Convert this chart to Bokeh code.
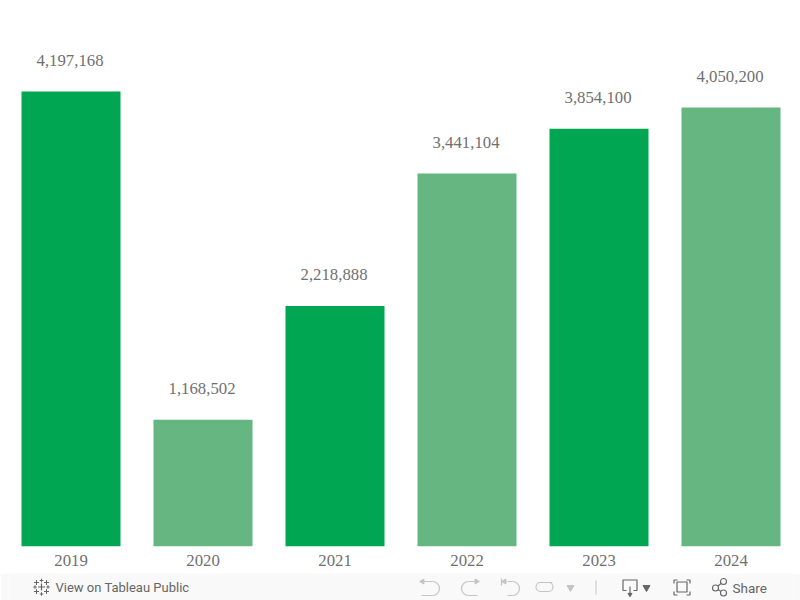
from bokeh.plotting import figure
from bokeh.layouts import column
from bokeh.models import ColumnDataSource, FactorRange, Range1d
from bokeh.core.properties import value
from bokeh.embed import file_html
from bokeh.resources import INLINE
import math

years = ["2019", "2020", "2021", "2022", "2023", "2024"]
totals = [4197168, 1168502, 2218888, 3441104, 3854100, 4050200]
shades = ["dark", "light", "dark", "light", "dark", "light"]
palette = {"dark": "#00a651", "light": "#66b682"}
TEXT = "#707070"
SERIF = "Liberation Serif"
SANS = "Roboto"
ICON = "#666666"
IDLE = "#c4c4c4"

src = ColumnDataSource(dict(
    year=years, total=totals,
    color=[palette[s] for s in shades],
    label=[f"{v:,}" for v in totals],
))

p = figure(width=800, height=573, output_backend="svg", toolbar_location=None,
           x_range=FactorRange(factors=years, range_padding=-3.5/132, range_padding_units="absolute"),
           y_range=Range1d(0, max(totals) * 1.2),
           min_border_left=8, min_border_right=7, min_border_top=0, min_border_bottom=27)
p.vbar(x="year", top="total", width=0.75, fill_color="color", line_color=None, source=src)
p.text(x="year", y="total", text="label", source=src, x_offset=-1, y_offset=-31,
       text_align="center", text_baseline="middle", text_color=TEXT,
       text_font=value(SERIF), text_font_size="16.75px")
p.yaxis.visible = False
p.grid.visible = False
p.outline_line_color = None
ax = p.xaxis[0]
ax.axis_line_color = None
ax.major_tick_line_color = None
ax.minor_tick_line_color = None
ax.major_label_standoff = 2
ax.major_label_text_font = SERIF
ax.major_label_text_font_size = "16.75px"
ax.major_label_text_color = TEXT

# Viewer strip under the chart. The column aligns its frame with the chart's
# frame, so its x range covers those same 8..793 pixels.
bar = figure(width=800, height=27, output_backend="svg", toolbar_location=None,
             x_range=Range1d(8, 793), y_range=Range1d(600, 573),
             min_border_left=0, min_border_right=0, min_border_top=0, min_border_bottom=0,
             background_fill_color="#f9f9f9", border_fill_color="#f9f9f9")
bar.axis.visible = False
bar.grid.visible = False
bar.outline_line_color = None

bar.text(x=[55], y=[587], text=["View on Tableau Public"], text_baseline="middle",
         text_color=ICON, text_font=value(SANS), text_font_size="13px")
bar.text(x=[732], y=[587], text=["Share"], text_baseline="middle",
         text_color=ICON, text_font=value(SANS), text_font_size="13.5px")

# logo
bar.scatter(x=[41], y=[586.5], marker="cross", size=7, line_color=ICON, line_width=1.2)
bar.scatter(x=[36, 46, 36, 46], y=[582, 582, 591, 591], marker="cross", size=5, line_color=ICON, line_width=1)
bar.scatter(x=[41, 41, 34.5, 47.5], y=[580, 593.5, 586.5, 586.5], marker="cross", size=3.5, line_color=ICON, line_width=1)

# undo, redo, revert, refresh
bar.multi_line(xs=[[421, 432], [421, 432], [468, 477], [468, 477], [507, 512], [507, 512], [501, 501]],
               ys=[[581, 581], [595, 595], [581, 581], [595, 595], [581, 581], [595, 595], [578, 585]],
               line_color=IDLE, line_width=1.2)
bar.arc(x=[432, 512], y=[588, 588], radius=[7, 7], start_angle=[-math.pi/2]*2, end_angle=[math.pi/2]*2,
        line_color=IDLE, line_width=1.2)
bar.arc(x=[468], y=[588], radius=[7], start_angle=[math.pi/2], end_angle=[3*math.pi/2],
        line_color=IDLE, line_width=1.2)
bar.scatter(x=[422, 476, 504], y=[581, 581, 581], size=5, marker="triangle", angle=[math.pi/2, -math.pi/2, math.pi/2],
            color=IDLE)
bar.multi_line(xs=[[539, 552], [539, 549]], ys=[[582, 582], [591, 591]], line_color=IDLE, line_width=1.2)
bar.arc(x=[540], y=[586.5], radius=[4.5], start_angle=[math.pi/2], end_angle=[3*math.pi/2], line_color=IDLE, line_width=1.2)
bar.arc(x=[548], y=[586.5], radius=[4.5], start_angle=[-math.pi/2], end_angle=[math.pi/2], line_color=IDLE, line_width=1.2)
bar.scatter(x=[570], y=[587], size=7, marker="inverted_triangle", color=IDLE)
bar.line(x=[595.5, 595.5], y=[580, 594], line_color=IDLE, line_width=1)

# download
bar.multi_line(xs=[[626, 622.5, 622.5, 636.5, 636.5, 633], [629.5, 629.5]],
               ys=[[590, 590, 579.5, 579.5, 590, 590], [586, 594]],
               line_color=ICON, line_width=1.2)
bar.scatter(x=[629.5], y=[594], size=4, marker="inverted_triangle", color=ICON)
bar.scatter(x=[646], y=[587], size=7, marker="inverted_triangle", color=ICON)

# fullscreen
bar.quad(left=[676.5], right=[686.5], top=[581.5], bottom=[591.5], fill_color=None, line_color=ICON, line_width=1.2)
bar.multi_line(xs=[[673.5, 673.5, 677], [686, 689.5, 689.5], [673.5, 673.5, 677], [686, 689.5, 689.5]],
               ys=[[583, 579.5, 579.5], [579.5, 579.5, 583], [591, 594.5, 594.5], [594.5, 594.5, 591]],
               line_color=ICON, line_width=1.2)

# share
bar.multi_line(xs=[[715, 723], [715, 723]], ys=[[587.5, 581], [587.5, 592.5]], line_color=ICON, line_width=1.1)
bar.scatter(x=[715, 723, 723], y=[587.5, 581, 592.5], size=6, marker="circle",
            fill_color="#f9f9f9", line_color=ICON, line_width=1.1)

layout = column(p, bar, spacing=0)
open("out.html", "w").write(file_html(layout, INLINE))
